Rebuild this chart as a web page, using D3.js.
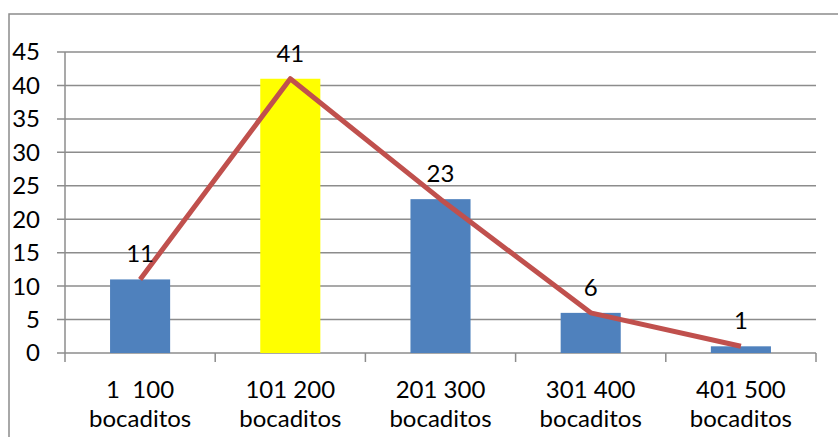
<!DOCTYPE html>
<html><head><meta charset="utf-8">
<script src="https://cdn.jsdelivr.net/npm/d3@7"></script>
<style>body{margin:0;background:#fff}text{font-family:Lato,"Open Sans",sans-serif;fill:#000}</style>
</head><body>
<svg id="c" width="838" height="437"></svg>
<script>
const categories = [["1  100","bocaditos"],["101 200","bocaditos"],["201 300","bocaditos"],["301 400","bocaditos"],["401 500","bocaditos"]];
const values = [11, 41, 23, 6, 1];
const barColors = ["#4F81BD","#FFFF00","#4F81BD","#4F81BD","#4F81BD"];
const yTicks = [0,5,10,15,20,25,30,35,40,45];

(function(){
const svg = d3.select("#c");
const fs = 24;
svg.append("rect").attr("x",9).attr("y",14).attr("width",860).attr("height",460)
  .attr("fill","none").attr("stroke","#8c8c8c").attr("stroke-width",1.5);

const pL=65, pR=816, pT=52, pB=353;
const x = d3.scaleBand().domain(d3.range(values.length)).range([pL,pR]).paddingInner(0.6).paddingOuter(0.3);
const y = d3.scaleLinear().domain([0,45]).range([pB,pT]);

svg.append("g").selectAll("line").data(yTicks).join("line")
  .attr("x1",pL-8).attr("x2",pR).attr("y1",d=>y(d)).attr("y2",d=>y(d))
  .attr("stroke","#8c8c8c").attr("stroke-width",1.5);
svg.append("line").attr("x1",pL).attr("x2",pL).attr("y1",pT).attr("y2",pB)
  .attr("stroke","#8c8c8c").attr("stroke-width",1.5);
svg.append("g").selectAll("text").data(yTicks).join("text")
  .attr("x",40).attr("y",d=>y(d)).attr("dy","0.35em").attr("text-anchor","end")
  .attr("font-size",fs).text(d=>d);
const bounds = d3.range(values.length+1).map(i=>pL+i*(pR-pL)/values.length);
svg.append("g").selectAll("line").data(bounds).join("line")
  .attr("x1",d=>d).attr("x2",d=>d).attr("y1",pB).attr("y2",pB+9)
  .attr("stroke","#8c8c8c").attr("stroke-width",1.5);

svg.append("g").selectAll("rect").data(values).join("rect")
  .attr("x",(d,i)=>x(i)).attr("width",x.bandwidth())
  .attr("y",d=>y(d)).attr("height",d=>pB-y(d))
  .attr("fill",(d,i)=>barColors[i]);

const cx = i=>x(i)+x.bandwidth()/2;
svg.append("path").datum(values)
  .attr("d",d3.line().x((d,i)=>cx(i)).y(d=>y(d)))
  .attr("fill","none").attr("stroke","#C0504D").attr("stroke-width",5).attr("stroke-linejoin","round");

svg.append("g").selectAll("text").data(values).join("text")
  .attr("x",(d,i)=>cx(i)).attr("y",d=>y(d)-17).attr("text-anchor","middle")
  .attr("font-size",fs).text(d=>d);

const xl = svg.append("g").selectAll("text").data(categories).join("text")
  .attr("text-anchor","middle").attr("font-size",fs).style("white-space","pre");
xl.each(function(d,i){
  const t=d3.select(this);
  t.append("tspan").attr("x",cx(i)).attr("y",398).text(d[0]);
  t.append("tspan").attr("x",cx(i)).attr("y",427).text(d[1]);
});
})();
</script>
</body></html>
